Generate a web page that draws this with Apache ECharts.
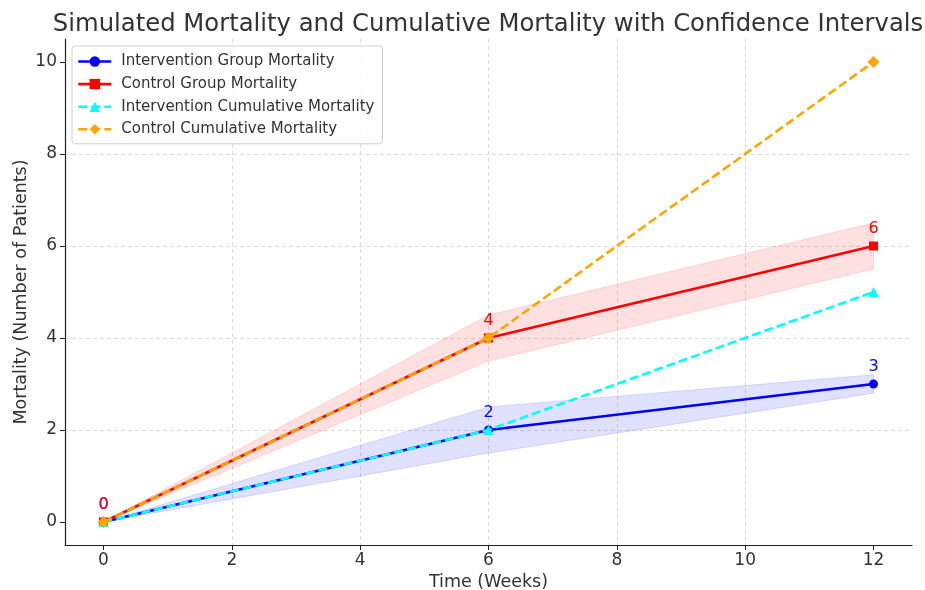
<!DOCTYPE html>
<html><head><meta charset="utf-8">
<script src="https://cdn.jsdelivr.net/npm/echarts@6/dist/echarts.min.js"></script>
<style>html,body{margin:0;padding:0;background:#fff}#c{width:925px;height:590px}</style>
</head><body><div id="c"></div>
<script>
const weeks = [0, 6, 12];
const interMortality = [0, 2, 3];
const controlMortality = [0, 4, 6];
const interCumulative = [0, 2, 5];
const controlCumulative = [0, 4, 10];
const interLower = [0, 1.5, 2.8];
const interUpper = [0, 2.5, 3.2];
const controlLower = [0, 3.5, 5.5];
const controlUpper = [0, 4.5, 6.5];
const xTicks = [0, 2, 4, 6, 8, 10, 12];
const yTicks = [0, 2, 4, 6, 8, 10];

const FONT = 'DejaVu Sans';
const pairs = (ys) => weeks.map((w, i) => [w, ys[i]]);

function band(lo, hi, fill) {
  return {
    type: 'custom', silent: true, z: 1,
    data: weeks.map((w, i) => [w, lo[i], hi[i]]),
    encode: { x: 0, y: [1, 2] },
    renderItem: function (params, api) {
      if (params.dataIndex !== 0) return null;
      const n = params.dataInsideLength;
      const top = [], bot = [];
      for (let j = 0; j < n; j++) {
        top.push(api.coord([api.value(0, j), api.value(2, j)]));
        bot.push(api.coord([api.value(0, j), api.value(1, j)]));
      }
      const pts = top.concat(bot.reverse());
      return {
        type: 'polygon', shape: { points: pts },
        style: { fill: fill, stroke: fill, lineWidth: 1 }
      };
    }
  };
}

const chart = echarts.init(document.getElementById('c'));
chart.setOption({
  animation: false,
  textStyle: { fontFamily: FONT },
  title: {
    text: 'Simulated Mortality and Cumulative Mortality with Confidence Intervals',
    left: 483, textAlign: 'center', top: 8,
    textStyle: { fontFamily: FONT, fontSize: 24.3, fontWeight: 'normal', color: '#333' }
  },
  grid: { left: 65, right: 13, top: 39, bottom: 45, outerBoundsMode: 'none' },
  legend: {
    orient: 'vertical', left: 72, top: 46,
    data: ['Intervention Group Mortality', 'Control Group Mortality',
           'Intervention Cumulative Mortality', 'Control Cumulative Mortality'],
    itemWidth: 33, itemHeight: 13, itemGap: 7.6,
    padding: [8, 8, 7, 5],
    lineStyle: { width: 2.6 },
    backgroundColor: 'rgba(255,255,255,0.85)', borderColor: '#d0d0d0', borderWidth: 1, borderRadius: 3,
    textStyle: { fontFamily: FONT, fontSize: 15, color: '#333', padding: [0, 0, 0, 5] }
  },
  xAxis: {
    type: 'value', min: -0.6, max: 12.6, splitNumber: 6,
    name: 'Time (Weeks)', nameLocation: 'middle', nameGap: 26,
    nameTextStyle: { fontFamily: FONT, fontSize: 17.5, color: '#333' },
    axisLine: { onZero: false, lineStyle: { color: '#222', width: 1.2 } },
    axisTick: { show: true, customValues: xTicks, length: 5, lineStyle: { color: '#222' } },
    axisLabel: { customValues: xTicks, fontFamily: FONT, fontSize: 17, color: '#333', margin: 7 },
    splitLine: { show: true, showMinLine: false, showMaxLine: false,
      lineStyle: { type: [4, 3], color: '#d0d0d0', width: 0.8 } }
  },
  yAxis: {
    type: 'value', min: -0.5, max: 10.5, splitNumber: 6,
    name: 'Mortality (Number of Patients)', nameLocation: 'middle', nameGap: 35,
    nameMoveOverlap: false,
    nameTextStyle: { fontFamily: FONT, fontSize: 17.5, color: '#333' },
    axisLine: { show: true, onZero: false, lineStyle: { color: '#222', width: 1.2 } },
    axisTick: { show: true, customValues: yTicks, length: 5, lineStyle: { color: '#222' } },
    axisLabel: { customValues: yTicks, fontFamily: FONT, fontSize: 17, color: '#333', margin: 8 },
    splitLine: { show: true, showMinLine: false, showMaxLine: false,
      lineStyle: { type: [4, 3], color: '#d0d0d0', width: 0.8 } }
  },
  series: [
    band(interLower, interUpper, 'rgba(0,0,255,0.12)'),
    band(controlLower, controlUpper, 'rgba(255,0,0,0.12)'),
    { name: 'Intervention Group Mortality', type: 'line', data: pairs(interMortality),
      color: '#0000ff', symbol: 'circle', symbolSize: 9, lineStyle: { width: 2.6 }, z: 3,
      label: { show: true, position: 'top', distance: 5, color: '#0000ff', fontSize: 16, fontFamily: FONT } },
    { name: 'Control Group Mortality', type: 'line', data: pairs(controlMortality),
      color: '#ff0000', symbol: 'rect', symbolSize: 9, lineStyle: { width: 2.6 }, z: 3,
      label: { show: true, position: 'top', distance: 5, color: '#ff0000', fontSize: 16, fontFamily: FONT } },
    { name: 'Intervention Cumulative Mortality', type: 'line', data: pairs(interCumulative),
      color: '#00ffff', symbol: 'triangle', symbolSize: 10, lineStyle: { width: 2.6, type: [9, 4] }, z: 4 },
    { name: 'Control Cumulative Mortality', type: 'line', data: pairs(controlCumulative),
      color: '#ffa500', symbol: 'diamond', symbolSize: 12, lineStyle: { width: 2.6, type: [9, 4] }, z: 4 }
  ]
});
</script></body></html>
